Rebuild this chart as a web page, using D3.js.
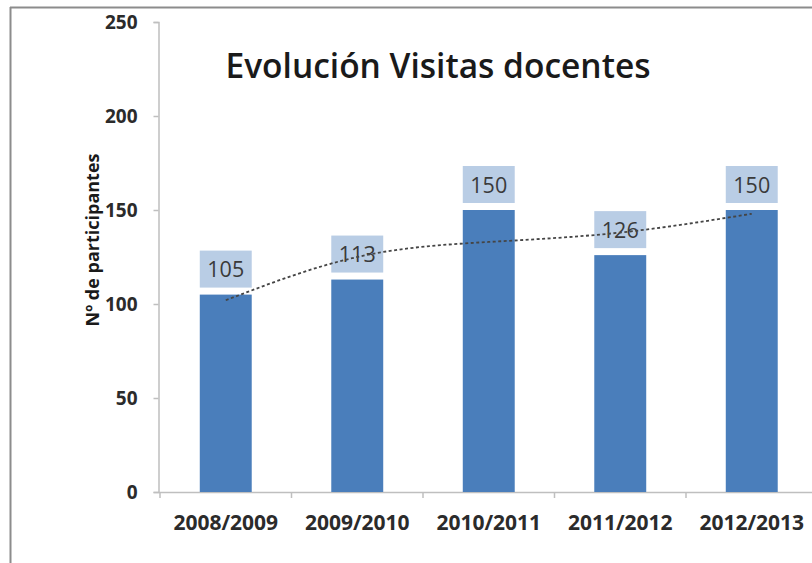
<!DOCTYPE html>
<html lang="es">
<head>
<meta charset="utf-8">
<title>Evolución Visitas docentes</title>
<script src="https://cdn.jsdelivr.net/npm/d3@7/dist/d3.min.js"></script>
<style>
  html, body { margin: 0; padding: 0; background: #fff; }
  svg { display: block; font-family: "Open Sans", Lato, sans-serif; }
</style>
</head>
<body>
<div id="chart"></div>
<script>
// datos
var cursos = ["2008/2009", "2009/2010", "2010/2011", "2011/2012", "2012/2013"];
var participantes = [105, 113, 150, 126, 150];
var tendencia = [102, 125, 133, 138, 148];
var yTicks = [0, 50, 100, 150, 200, 250];

var W = 812, H = 563;
var plot = { left: 160, right: 817.5, top: 22, bottom: 492 };

var svg = d3.select("#chart").append("svg")
  .attr("width", W)
  .attr("height", H);

svg.append("rect").attr("width", W).attr("height", H).attr("fill", "#fff");

// marco del grafico (recortado a la derecha)
svg.append("line")
  .attr("x1", 10).attr("x2", W).attr("y1", 7.5).attr("y2", 7.5)
  .attr("stroke", "#8c8c8c").attr("stroke-width", 2);
svg.append("line")
  .attr("x1", 10.5).attr("x2", 10.5).attr("y1", 7).attr("y2", H)
  .attr("stroke", "#8c8c8c").attr("stroke-width", 2);

var x = d3.scaleBand()
  .domain(cursos)
  .range([plot.left, plot.right])
  .paddingInner(0.605)
  .paddingOuter(0.3025);

var y = d3.scaleLinear()
  .domain([0, 250])
  .range([plot.bottom, plot.top]);

// eje Y
var yAxis = svg.append("g")
  .attr("transform", "translate(" + (plot.left - 1.5) + ",0)")
  .call(d3.axisLeft(y).tickValues(yTicks).tickSize(5).tickPadding(16));
yAxis.select(".domain").attr("stroke", "#bfbfbf").attr("stroke-width", 1.5);
yAxis.selectAll(".tick line").attr("stroke", "#bfbfbf").attr("stroke-width", 1.5);
yAxis.selectAll(".tick text")
  .attr("fill", "#2b2b2b")
  .attr("dy", "0.36em")
  .style("font-size", "19px")
  .style("font-weight", "bold")
  .style("font-family", "'Open Sans', sans-serif");

// eje X
var bordes = cursos.map(function(d) { return x(d) + x.bandwidth() / 2 - x.step() / 2; });
bordes.push(plot.right);
svg.append("line")
  .attr("x1", plot.left - 1.5).attr("x2", W)
  .attr("y1", plot.bottom + 0.5).attr("y2", plot.bottom + 0.5)
  .attr("stroke", "#bfbfbf").attr("stroke-width", 1.5);
svg.selectAll(".xtick").data(bordes).enter().append("line")
  .attr("class", "xtick")
  .attr("x1", function(d) { return d; }).attr("x2", function(d) { return d; })
  .attr("y1", plot.bottom).attr("y2", plot.bottom + 6)
  .attr("stroke", "#bfbfbf").attr("stroke-width", 1.5);
svg.selectAll(".xlabel").data(cursos).enter().append("text")
  .attr("class", "xlabel")
  .attr("x", function(d) { return x(d) + x.bandwidth() / 2; })
  .attr("y", 530)
  .attr("text-anchor", "middle")
  .attr("fill", "#2b2b2b")
  .style("font-size", "21px")
  .style("font-weight", "bold")
  .text(function(d) { return d; });

// barras
svg.selectAll(".bar").data(participantes).enter().append("rect")
  .attr("class", "bar")
  .attr("x", function(d, i) { return x(cursos[i]); })
  .attr("y", function(d) { return y(d); })
  .attr("width", x.bandwidth())
  .attr("height", function(d) { return y(0) - y(d); })
  .attr("fill", "#4a7ebb");

// etiquetas de datos
var etiquetas = svg.selectAll(".etq").data(participantes).enter().append("g")
  .attr("class", "etq")
  .attr("transform", function(d, i) { return "translate(" + x(cursos[i]) + "," + (y(d) - 44) + ")"; });
etiquetas.append("rect")
  .attr("width", x.bandwidth())
  .attr("height", 37)
  .attr("fill", "#b9cde5");
etiquetas.append("text")
  .attr("x", x.bandwidth() / 2)
  .attr("y", 26.5)
  .attr("text-anchor", "middle")
  .attr("fill", "#3a3a3a")
  .style("font-size", "21.5px")
  .text(function(d) { return d; });

// linea de tendencia
var linea = d3.line()
  .x(function(d, i) { return x(cursos[i]) + x.bandwidth() / 2; })
  .y(function(d) { return y(d); })
  .curve(d3.curveNatural);
svg.append("path")
  .datum(tendencia)
  .attr("d", linea)
  .attr("fill", "none")
  .attr("stroke", "#454545")
  .attr("stroke-width", 1.8)
  .attr("stroke-dasharray", "3,2.5");

// titulo
svg.append("text")
  .attr("x", 438)
  .attr("y", 78)
  .attr("text-anchor", "middle")
  .attr("fill", "#1a1a1a")
  .style("font-size", "33.5px")
  .style("font-weight", "600")
  .text("Evolución Visitas docentes");

// titulo eje Y
svg.append("text")
  .attr("transform", "translate(99,240) rotate(-90)")
  .attr("text-anchor", "middle")
  .attr("fill", "#1a1a1a")
  .style("font-size", "18px")
  .style("font-weight", "bold")
  .text("Nº de participantes");
</script>
</body>
</html>
